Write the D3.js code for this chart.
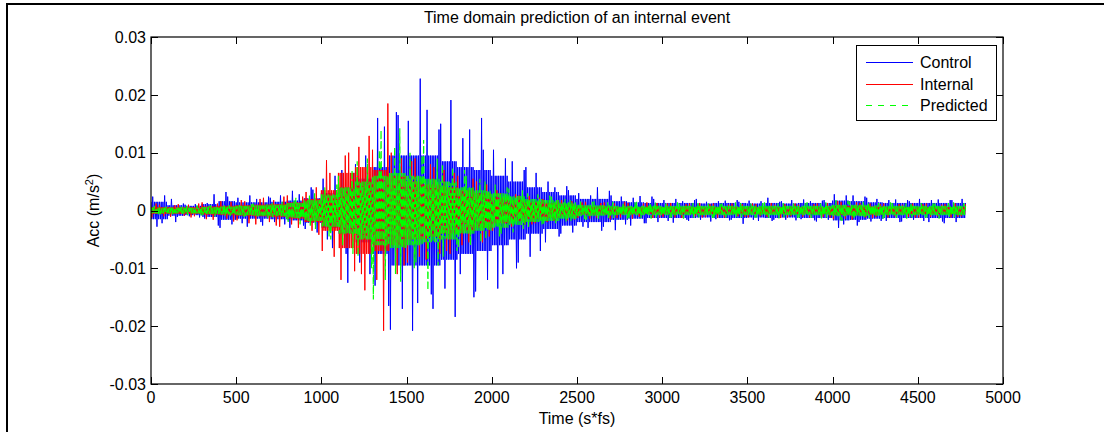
<!DOCTYPE html>
<html><head><meta charset="utf-8">
<script src="https://cdn.jsdelivr.net/npm/d3@7"></script>
<style>
html,body{margin:0;padding:0;background:#fff;}
svg{display:block;}
text{font-family:"Liberation Sans",Arial,Helvetica,sans-serif;fill:#000;}
</style></head>
<body>
<svg id="chart" width="1104" height="432"></svg>
<script>
// ---------------- data (acceleration in 1e-3 m/s^2) ----------------
const nSamples = 4780;                 // length of the recorded signals
const peakBin = 50;                    // samples per peak-envelope bin
const bandBin = 100;                   // samples per dense-band bin

const xTicks = [0, 500, 1000, 1500, 2000, 2500, 3000, 3500, 4000, 4500, 5000];
const yTicks = [-0.03, -0.02, -0.01, 0, 0.01, 0.02, 0.03];
const seriesNames = ["Control", "Internal", "Predicted"];

const controlHi = [2.4,2.6,2.0,1.2,1.0,1.1,1.3,2.8,3.2,2.4,
  2.2,2.6,2.0,2.4,2.2,2.6,3.4,2.8,4.0,3.6,
  5.5,6.0,7.0,6.5,8.0,9.5,16.0,14.5,17.0,16.5,
  15.5,22.8,17.4,14.0,15.0,19.1,12.5,14.0,16.0,10.5,
  10.5,9.0,8.5,7.0,7.5,6.5,5.0,4.0,4.2,3.5,
  3.0,2.6,4.0,3.4,2.6,2.4,2.2,2.5,2.4,2.0,
  1.8,2.0,1.6,1.8,2.0,1.5,1.6,1.7,1.8,1.5,
  1.7,1.6,2.2,1.5,1.6,1.8,1.9,1.6,1.7,1.8,
  2.8,2.6,2.6,2.4,2.2,2.0,1.8,1.9,1.8,1.6,
  2.0,1.8,1.9,1.8,1.8,2.0];
const controlLo = [-2.8,-2.2,-2.0,-1.1,-1.0,-1.2,-1.4,-2.6,-3.0,-2.4,
  -2.2,-2.8,-2.0,-2.6,-2.0,-2.4,-3.0,-2.6,-3.2,-3.8,
  -5.0,-6.5,-7.5,-12.5,-9.0,-11.0,-13.0,-16.5,-20.6,-17.0,
  -20.8,-16.0,-14.5,-17.0,-13.5,-18.4,-11.0,-15.0,-14.0,-12.0,
  -13.5,-11.0,-10.0,-9.0,-8.0,-7.0,-5.5,-4.5,-4.0,-3.8,
  -2.8,-3.0,-3.5,-2.8,-3.4,-2.4,-2.6,-2.2,-2.2,-2.0,
  -1.8,-2.1,-1.6,-1.8,-1.6,-1.9,-1.5,-1.7,-1.6,-2.3,
  -1.6,-1.8,-1.8,-1.6,-1.6,-1.7,-1.5,-1.7,-1.9,-1.6,
  -3.0,-2.4,-2.6,-2.0,-1.9,-1.8,-1.8,-2.0,-1.9,-1.6,
  -1.8,-2.0,-1.9,-2.2,-2.0,-1.9];
const controlBand = [1.5,0.9,0.8,1.1,1.6,1.4,1.4,1.5,1.7,2.1,
  3.0,4.0,5.5,7.5,9.5,9.5,9.5,8.5,7.5,7.0,
  6.0,5.0,4.0,3.2,2.6,2.0,2.0,1.6,1.4,1.3,
  1.3,1.3,1.2,1.3,1.3,1.2,1.3,1.2,1.3,1.3,
  1.7,1.6,1.4,1.3,1.3,1.3,1.3,1.3];

const internalHi = [1.2,1.0,0.9,1.1,1.0,1.2,1.4,1.2,1.6,1.5,
  1.8,1.6,2.0,2.2,1.8,2.4,2.6,2.4,3.2,4.0,
  8.7,6.5,9.5,10.0,11.0,12.9,10.5,18.5,10.0,9.0,
  8.5,9.0,8.0,7.5,7.0,6.5,6.0,5.5,5.0,4.5,
  3.5,3.0,2.8,2.6,2.5,2.2,2.0,1.8,1.8,1.6,
  1.4,1.5,1.3,1.4,1.2,1.5,1.3,1.2,1.4,1.3,
  1.2,1.3,1.1,1.2,1.3,1.1,1.2,1.0,1.2,1.1,
  1.2,1.1,1.3,1.0,1.1,1.2,1.0,1.1,1.2,1.3,
  1.6,1.5,1.4,1.3,1.2,1.1,1.2,1.1,1.0,1.2,
  1.1,1.2,1.0,1.1,1.2,1.1];
const internalLo = [-1.2,-1.0,-1.1,-0.9,-1.2,-1.0,-1.5,-1.6,-1.4,-1.9,
  -1.7,-2.2,-2.4,-2.0,-2.6,-2.8,-2.4,-3.0,-3.5,-4.2,
  -7.0,-8.0,-12.0,-10.5,-11.0,-13.8,-12.0,-20.8,-11.0,-9.5,
  -9.0,-8.0,-8.5,-7.5,-7.0,-7.5,-6.0,-5.5,-5.5,-4.5,
  -3.5,-3.0,-2.8,-2.5,-2.4,-2.2,-2.0,-1.8,-1.7,-1.6,
  -1.3,-1.4,-1.2,-1.5,-1.3,-1.2,-1.4,-1.1,-1.3,-1.2,
  -1.1,-1.2,-1.3,-1.0,-1.2,-1.1,-1.3,-1.2,-1.0,-1.1,
  -1.2,-1.0,-1.1,-1.3,-1.2,-1.0,-1.1,-1.2,-1.1,-1.2,
  -1.5,-1.4,-1.6,-1.2,-1.3,-1.1,-1.2,-1.0,-1.1,-1.2,
  -1.2,-1.1,-1.0,-1.2,-1.1,-1.0];
const internalBand = [0.6,0.6,0.6,0.7,0.8,0.9,1.0,1.1,1.4,2.0,
  3.5,6.5,7.5,7.0,6.0,5.0,4.5,4.0,3.5,3.0,
  2.2,1.8,1.5,1.3,1.0,0.7,0.7,0.6,0.6,0.6,
  0.6,0.6,0.6,0.6,0.6,0.6,0.6,0.6,0.6,0.6,
  0.8,0.8,0.7,0.6,0.6,0.6,0.6,0.6];

const predictedHi = [0.8,0.7,0.6,0.7,0.8,0.9,0.8,0.9,1.0,0.9,
  1.0,1.1,1.2,1.1,1.3,1.5,1.8,2.2,2.6,3.0,
  4.0,4.5,6.0,7.0,8.5,9.0,10.5,13.9,11.0,14.2,
  10.0,9.5,12.2,9.0,8.0,7.5,7.0,6.0,5.5,5.0,
  4.5,4.0,3.8,3.5,3.0,2.8,2.6,2.4,2.0,1.8,
  1.6,1.5,1.6,1.4,1.5,1.3,1.4,1.5,1.3,1.4,
  1.3,1.4,1.2,1.3,1.4,1.2,1.3,1.2,1.4,1.3,
  1.2,1.3,1.4,1.2,1.3,1.2,1.3,1.4,1.2,1.4,
  1.8,1.7,1.6,1.5,1.4,1.3,1.4,1.3,1.2,1.3,
  1.3,1.4,1.2,1.3,1.4,1.3];
const predictedLo = [-0.8,-0.7,-0.7,-0.6,-0.8,-0.9,-0.8,-1.0,-0.9,-1.0,
  -1.1,-1.0,-1.2,-1.3,-1.2,-1.5,-2.0,-2.4,-2.8,-3.2,
  -4.5,-5.0,-6.0,-7.5,-8.0,-10.0,-15.4,-12.0,-11.0,-12.3,
  -10.0,-9.0,-13.8,-9.5,-8.0,-7.0,-6.5,-6.0,-5.5,-5.0,
  -4.5,-4.0,-3.8,-3.2,-3.0,-2.6,-2.4,-2.2,-2.0,-1.8,
  -1.5,-1.6,-1.4,-1.5,-1.3,-1.4,-1.5,-1.3,-1.4,-1.2,
  -1.3,-1.2,-1.4,-1.3,-1.2,-1.3,-1.4,-1.2,-1.3,-1.2,
  -1.3,-1.2,-1.3,-1.4,-1.2,-1.3,-1.2,-1.3,-1.4,-1.2,
  -1.7,-1.8,-1.5,-1.4,-1.3,-1.4,-1.2,-1.3,-1.4,-1.2,
  -1.3,-1.2,-1.4,-1.3,-1.2,-1.3];
const predictedBand = [0.5,0.5,0.5,0.6,0.7,0.8,0.9,1.0,1.3,1.8,
  2.8,4.0,5.0,6.0,6.5,6.0,5.5,5.0,4.0,3.5,
  3.0,2.5,2.0,1.8,1.4,1.0,0.9,0.8,0.8,0.8,
  0.8,0.8,0.8,0.8,0.8,0.8,0.8,0.8,0.8,0.8,
  1.0,1.0,0.9,0.8,0.8,0.8,0.8,0.8];

// ---------------- layout / style ----------------
const W = 1104, H = 432;
const M = {left: 151, right: 1003, top: 37, bottom: 384};
const colors = ["#0000ff", "#ff0000", "#00ff00"];
const FONT = 16;

const svg = d3.select("#chart");
svg.append("rect").attr("width", W).attr("height", H).attr("fill", "#fff");

// figure frame (only top/left edges visible)
svg.append("path").attr("d", `M7,${H} L7,4 L${W},4`).attr("fill", "none")
  .attr("stroke", "#000").attr("stroke-width", 2);

const x = d3.scaleLinear().domain([0, 5000]).range([M.left, M.right]);
const y = d3.scaleLinear().domain([-0.03, 0.03]).range([M.bottom, M.top]);

svg.append("clipPath").attr("id", "clip").append("rect")
  .attr("x", M.left).attr("y", M.top).attr("width", M.right - M.left).attr("height", M.bottom - M.top);

// trace of a series built from its read envelopes:
// dense band drawn as an alternating trace, one upward and one downward peak per peak bin
function trace(hi, lo, band, hiSlots, loSlots) {
  const pts = [];
  const step = 5;
  const perBin = peakBin / step;
  for (let k = 0; k < hi.length; k++) {
    for (let m = 0; m < perBin; m++) {
      const s = k * peakBin + m * step;
      if (s > nSamples) break;
      const b = band[Math.min(band.length - 1, Math.floor(s / bandBin))];
      let v = (m % 2 === 0) ? b : -b;
      if (m === hiSlots[k % hiSlots.length]) v = hi[k];
      if (m === loSlots[k % loSlots.length]) v = lo[k];
      pts.push([s, v * 1e-3]);
    }
  }
  return pts;
}

const series = [
  {name: seriesNames[0], pts: trace(controlHi, controlLo, controlBand, [2,6,4,8,0], [7,3,9,1,5]), dash: null, w: 1},
  {name: seriesNames[1], pts: trace(internalHi, internalLo, internalBand, [6,0,8,2,4], [1,5,3,9,7]), dash: null, w: 1},
  {name: seriesNames[2], pts: trace(predictedHi, predictedLo, predictedBand, [4,8,0,6,2], [9,1,5,7,3]), dash: "7,3", w: 1.2}
];

const line = d3.line().x(d => x(d[0])).y(d => y(d[1]));
const g = svg.append("g").attr("clip-path", "url(#clip)");
series.forEach((s, i) => {
  g.append("path").datum(s.pts).attr("d", line)
    .attr("fill", "none").attr("stroke", colors[i]).attr("stroke-width", s.w)
    .attr("stroke-linejoin", "miter").attr("stroke-miterlimit", 2)
    .attr("stroke-dasharray", s.dash);
});

// axes box
svg.append("rect").attr("x", M.left).attr("y", M.top)
  .attr("width", M.right - M.left).attr("height", M.bottom - M.top)
  .attr("fill", "none").attr("stroke", "#000").attr("stroke-width", 1.2);

const TL = 7;
const ticks = svg.append("g").attr("stroke", "#000").attr("stroke-width", 1);
xTicks.forEach(t => {
  const px = Math.round(x(t)) + 0.5;
  ticks.append("line").attr("x1", px).attr("x2", px).attr("y1", M.bottom).attr("y2", M.bottom - TL);
  ticks.append("line").attr("x1", px).attr("x2", px).attr("y1", M.top).attr("y2", M.top + TL);
  svg.append("text").attr("x", x(t)).attr("y", 403).attr("text-anchor", "middle")
    .attr("font-size", FONT).text(t);
});
yTicks.forEach(t => {
  const py = Math.round(y(t)) + 0.5;
  ticks.append("line").attr("x1", M.left).attr("x2", M.left + TL).attr("y1", py).attr("y2", py);
  ticks.append("line").attr("x1", M.right).attr("x2", M.right - TL).attr("y1", py).attr("y2", py);
  svg.append("text").attr("x", 146).attr("y", y(t)).attr("dy", "0.36em").attr("text-anchor", "end")
    .attr("font-size", FONT).text(t === 0 ? "0" : t.toFixed(2));
});

// labels
svg.append("text").attr("x", (M.left + M.right) / 2).attr("y", 23).attr("text-anchor", "middle")
  .attr("font-size", FONT).text("Time domain prediction of an internal event");
svg.append("text").attr("x", (M.left + M.right) / 2).attr("y", 424).attr("text-anchor", "middle")
  .attr("font-size", FONT).text("Time (s*fs)");
const yl = svg.append("text").attr("transform", `translate(99,${(M.top + M.bottom) / 2}) rotate(-90)`)
  .attr("text-anchor", "middle").attr("font-size", FONT);
yl.append("tspan").text("Acc (m/s");
yl.append("tspan").attr("baseline-shift", "super").attr("font-size", 11).text("2");
yl.append("tspan").text(")");

// legend
const L = {x: 856, y: 45, w: 140, h: 75};
const lg = svg.append("g");
lg.append("rect").attr("x", L.x + 0.5).attr("y", L.y + 0.5).attr("width", L.w).attr("height", L.h)
  .attr("fill", "#fff").attr("stroke", "#000").attr("stroke-width", 1);
const rows = [62, 84, 105];
seriesNames.forEach((n, i) => {
  lg.append("line").attr("x1", 866).attr("x2", 913).attr("y1", rows[i] + 0.5).attr("y2", rows[i] + 0.5)
    .attr("stroke", colors[i]).attr("stroke-width", 1)
    .attr("stroke-dasharray", i === 2 ? "6,6" : null);
  lg.append("text").attr("x", 920).attr("y", rows[i]).attr("dy", "0.36em")
    .attr("font-size", FONT).text(n);
});
</script>
</body></html>
